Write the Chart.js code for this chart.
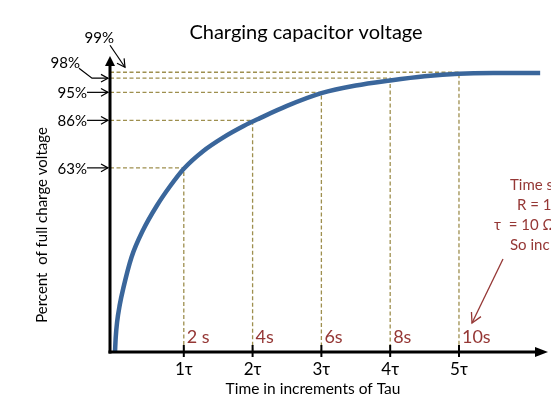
<!DOCTYPE html>
<html><head><meta charset="utf-8">
<script src="https://cdn.jsdelivr.net/npm/chart.js@4.4.0/dist/chart.umd.min.js"></script>
<style>html,body{margin:0;padding:0;background:#fff;}#wrap{width:551px;height:405px;position:relative;}</style>
</head><body><div id="wrap"><canvas id="c" width="551" height="405"></canvas></div>
<script>
// Time in units of tau along the curve, and drawn height of the curve (diagram units, non-linear % scale)
const tauValues = [0, 0.01, 0.03, 0.07, 0.12, 0.24, 0.41, 0.61, 0.80, 1.0, 1.28, 1.57, 1.87, 2.1, 2.5, 3.0, 3.5, 4.0, 4.5, 5.0, 5.5, 6.18];
const chargeHeight = [0, 5, 10.5, 16.8, 22.5, 33.5, 43.2, 51.8, 58.6, 64.8, 71.0, 75.8, 79.9, 82.6, 87.0, 91.5, 94.2, 96.0, 97.5, 98.4, 98.6, 98.6];
// Reference levels (label, drawn height) and the tau at which each guide drops
const levelLabels = ['63%', '86%', '95%', '98%', '99%'];
const levelHeights = [65.1, 81.9, 91.8, 96.8, 98.9];
const levelTau = [1, 2, 3, 4, 5];
// Tick labels
const tauTickLabels = ['1τ', '2τ', '3τ', '4τ', '5τ'];
const secondLabels = ['2 s', '4s', '6s', '8s', '10s'];
const noteLines = ['Time scale', 'R = 10', 'τ  = 10 Ω', 'So inc'];

const X_MIN = -0.0727, X_MAX = 6.294, Y_MAX = 104.3;
const FONT = 'Lato, "Open Sans", sans-serif';
const guideColor = '#9e8f4e';
const red = '#953735';

const datasets = [];
levelHeights.forEach((h, i) => {
  datasets.push({
    data: [{x: X_MIN, y: h}, {x: levelTau[i], y: h}, {x: levelTau[i], y: 0}],
    borderColor: guideColor, borderWidth: 1.3, borderDash: [4, 2.5],
    pointRadius: 0, tension: 0, fill: false, order: 2
  });
});
datasets.push({
  data: tauValues.map((t, i) => ({x: t, y: chargeHeight[i]})),
  borderColor: '#3a669b', borderWidth: 4.5, pointRadius: 0,
  cubicInterpolationMode: 'monotone', fill: false, order: 1, borderCapStyle: 'butt'
});

function openHead(ctx, x1, y1, x2, y2, len) {
  const a = Math.atan2(y2 - y1, x2 - x1);
  ctx.beginPath();
  ctx.moveTo(x2 - len * Math.cos(a - 0.5), y2 - len * Math.sin(a - 0.5));
  ctx.lineTo(x2, y2);
  ctx.lineTo(x2 - len * Math.cos(a + 0.5), y2 - len * Math.sin(a + 0.5));
  ctx.stroke();
}

const deco = {
  id: 'deco',
  afterDatasetsDraw(chart) {
    const ctx = chart.ctx, xs = chart.scales.x, ys = chart.scales.y;
    const ax = xs.left, ay = ys.bottom, top = ys.top, right = xs.right;
    ctx.save();
    ctx.strokeStyle = '#000'; ctx.fillStyle = '#000';
    // y axis
    ctx.lineWidth = 3;
    ctx.beginPath(); ctx.moveTo(ax, ay + 1.5); ctx.lineTo(ax, top + 8); ctx.stroke();
    ctx.beginPath(); ctx.moveTo(ax, top - 1); ctx.lineTo(ax - 5, top + 9); ctx.lineTo(ax + 5, top + 9); ctx.closePath(); ctx.fill();
    // x axis
    ctx.beginPath(); ctx.moveTo(ax - 1.5, ay); ctx.lineTo(right - 10, ay); ctx.stroke();
    ctx.beginPath(); ctx.moveTo(right, ay); ctx.lineTo(right - 13, ay - 5); ctx.lineTo(right - 13, ay + 5); ctx.closePath(); ctx.fill();
    // ticks and labels
    ctx.lineWidth = 2;
    ctx.textBaseline = 'middle';
    levelTau.forEach((t, i) => {
      const px = xs.getPixelForValue(t);
      ctx.strokeStyle = '#000';
      ctx.beginPath(); ctx.moveTo(px, ay - 7); ctx.lineTo(px, ay + 5); ctx.stroke();
      ctx.fillStyle = '#000'; ctx.font = '17px ' + FONT; ctx.textAlign = 'center';
      ctx.fillText(tauTickLabels[i], px, ay + 18);
      ctx.fillStyle = red; ctx.textAlign = 'left'; ctx.font = '18px ' + FONT;
      ctx.fillText(secondLabels[i], px + 3, ay - 15);
    });
    // axis titles and title
    ctx.fillStyle = '#000'; ctx.textAlign = 'center';
    ctx.font = '15.5px ' + FONT;
    ctx.fillText('Time in increments of Tau', 313, 389);
    ctx.font = '15px ' + FONT;
    ctx.save(); ctx.translate(42, 225); ctx.rotate(-Math.PI / 2);
    ctx.fillText('Percent  of full charge voltage', 0, 0); ctx.restore();
    ctx.font = '20px ' + FONT;
    ctx.fillText('Charging capacitor voltage', 306, 33);
    // level labels with arrows
    ctx.font = '15px ' + FONT; ctx.lineWidth = 1.2; ctx.strokeStyle = '#000';
    levelLabels.forEach((lab, i) => {
      const py = ys.getPixelForValue(levelHeights[i]);
      if (i < 3) {
        ctx.textAlign = 'right'; ctx.fillText(lab, 87, py + 1);
        ctx.beginPath(); ctx.moveTo(87, py); ctx.lineTo(ax - 2, py); ctx.stroke();
        openHead(ctx, 87, py, ax - 2, py, 8);
      } else if (i === 3) {
        ctx.textAlign = 'right'; ctx.fillText(lab, 80, py - 15);
        ctx.beginPath(); ctx.moveTo(79, py - 10); ctx.lineTo(92, py); ctx.lineTo(ax - 2, py); ctx.stroke();
        openHead(ctx, 92, py, ax - 2, py, 8);
      } else {
        ctx.textAlign = 'right'; ctx.fillText(lab, 114, py - 34);
        ctx.beginPath(); ctx.moveTo(110, py - 27); ctx.lineTo(125, py - 5); ctx.stroke();
        openHead(ctx, 110, py - 27, 125, py - 5, 9);
      }
    });
    // side note (clipped by canvas edge)
    ctx.fillStyle = red; ctx.textAlign = 'left'; ctx.font = '15px ' + FONT;
    const noteX = [510, 517, 494, 510];
    noteLines.forEach((s, i) => ctx.fillText(s, noteX[i], 185 + i * 20));
    ctx.strokeStyle = red; ctx.lineWidth = 1.3;
    ctx.beginPath(); ctx.moveTo(503, 259); ctx.lineTo(472, 323); ctx.stroke();
    openHead(ctx, 503, 259, 472, 323, 11);
    ctx.restore();
  }
};

new Chart(document.getElementById('c'), {
  type: 'line',
  data: { datasets },
  options: {
    responsive: false, animation: false, devicePixelRatio: 1,
    layout: { padding: { left: 110, right: 3, top: 57, bottom: 53 } },
    plugins: { legend: { display: false }, tooltip: { enabled: false }, title: { display: false } },
    scales: {
      x: { type: 'linear', min: X_MIN, max: X_MAX, display: false },
      y: { type: 'linear', min: 0, max: Y_MAX, display: false }
    }
  },
  plugins: [deco]
});
</script></body></html>
